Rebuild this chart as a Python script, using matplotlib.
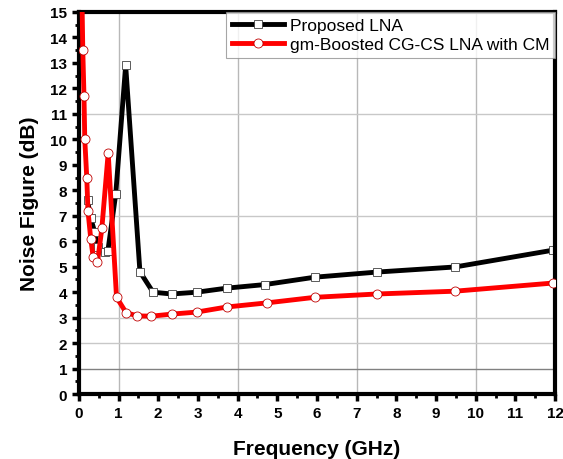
import matplotlib
matplotlib.use("Agg")
from matplotlib import pyplot as plt
from matplotlib.ticker import MultipleLocator

plt.rcParams['font.family'] = ['Liberation Sans', 'DejaVu Sans']

# Proposed LNA
f_prop = [0.22, 0.30, 0.40, 0.48, 0.66, 0.73, 0.93, 1.18, 1.54, 1.87, 2.34, 2.97, 3.73, 4.69, 5.95, 7.51, 9.48, 11.95]
nf_prop = [7.6, 6.9, 6.36, 5.77, 5.57, 5.6, 7.85, 12.9, 4.8, 4.0, 3.93, 4.0, 4.16, 4.3, 4.59, 4.79, 4.99, 5.65]

# gm-Boosted CG-CS LNA with CM
f_gm = [0.08, 0.10, 0.13, 0.15, 0.20, 0.23, 0.30, 0.36, 0.47, 0.58, 0.74, 0.95, 1.19, 1.47, 1.83, 2.34, 2.97, 3.73, 4.73, 5.95, 7.51, 9.48, 11.95]
nf_gm = [15.5, 13.5, 11.7, 10.0, 8.5, 7.2, 6.1, 5.4, 5.17, 6.5, 9.46, 3.8, 3.2, 3.07, 3.06, 3.14, 3.22, 3.42, 3.58, 3.8, 3.93, 4.04, 4.36]

grid_x = [1, 4, 7, 10]
grid_y = [2, 3, 7, 11]

fig = plt.figure(figsize=(5.63, 4.60), dpi=100)
ax = fig.add_axes([0.140, 0.141, 0.846, 0.831])

for gx in grid_x:
    ax.axvline(gx, color="#b8b8b8", lw=1.0, zorder=0)
for gy in grid_y:
    ax.axhline(gy, color="#c8c8c8", lw=1.0, zorder=0)
ax.axhline(1, color="#808080", lw=1.0, zorder=0)

ax.plot(f_prop, nf_prop, color="black", lw=3.5, marker="s", markersize=5.5,
        markerfacecolor="white", markeredgecolor="#404040", markeredgewidth=0.6,
        label="Proposed LNA", zorder=2)
ax.plot(f_gm, nf_gm, color="#ff0000", lw=3.5, marker="o", markersize=6.5,
        markerfacecolor="white", markeredgecolor="#c00000", markeredgewidth=0.6,
        label="gm-Boosted CG-CS LNA with CM", zorder=3)

ax.set_xlim(0, 12)
ax.set_ylim(0, 15)
ax.xaxis.set_major_locator(MultipleLocator(1))
ax.xaxis.set_minor_locator(MultipleLocator(0.5))
ax.yaxis.set_major_locator(MultipleLocator(1))
ax.yaxis.set_minor_locator(MultipleLocator(0.5))
ax.tick_params(which="major", direction="out", length=5, width=2.5, labelsize=11)
ax.tick_params(which="minor", direction="out", length=3, width=2)
for lab in ax.get_xticklabels() + ax.get_yticklabels():
    lab.set_fontweight("bold")
for s in ax.spines.values():
    s.set_linewidth(3)

ax.set_xlabel("Frequency (GHz)", fontsize=15, fontweight="bold", labelpad=14)
ax.set_ylabel("Noise Figure (dB)", fontsize=15, fontweight="bold", labelpad=8)

leg = ax.legend(loc="upper right", fontsize=12.5, frameon=True, fancybox=False,
                borderaxespad=0, handlelength=3.0, handletextpad=0.3,
                borderpad=0.35, labelspacing=0.2)
leg.get_frame().set_edgecolor("#909090")
leg.get_frame().set_linewidth(0.8)

fig.savefig("out.png", dpi=100)
